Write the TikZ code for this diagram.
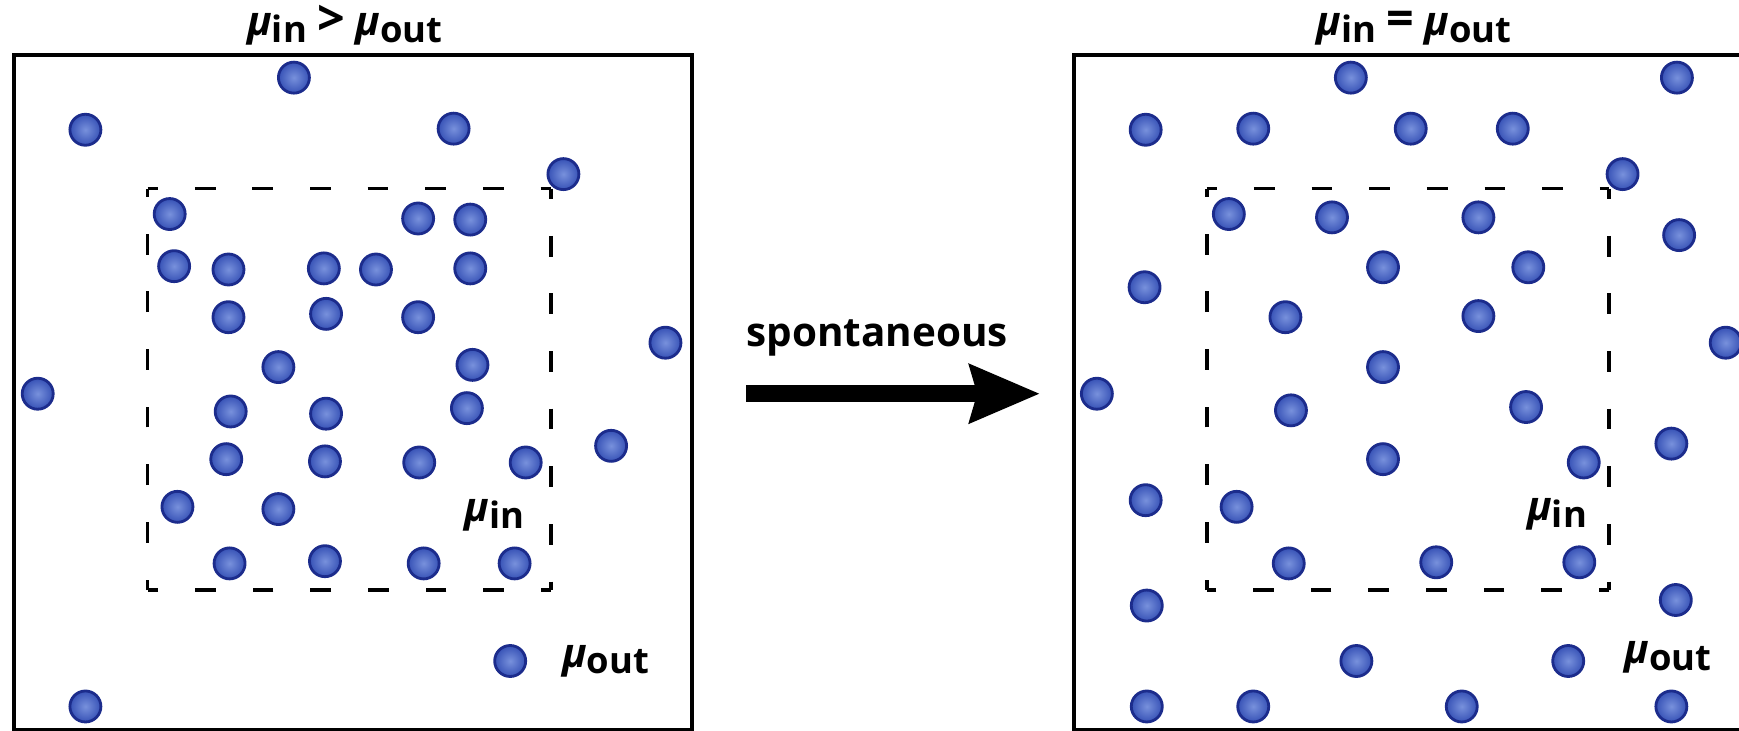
\documentclass[tikz,border=0pt]{standalone}
\usepackage{fontspec}
\setmainfont{Open Sans}
\usetikzlibrary{arrows.meta}
\definecolor{ballin}{RGB}{120,145,220}
\definecolor{ballout}{RGB}{55,82,182}
\definecolor{ballborder}{RGB}{28,44,140}
\newcommand{\mysub}[1]{\raisebox{-0.3ex}{\fontsize{0.9em}{1em}\selectfont\bfseries #1}}
\newcommand{\mymu}{{\bfseries\itshape μ}}
\newcommand{\myrel}[1]{{\fontsize{1.2em}{1em}\selectfont #1}}
\begin{document}
\begin{tikzpicture}[x=0.1109mm,y=-0.1109mm,
  ball/.style={circle,minimum size=3.1mm,inner sep=0pt,draw=ballborder,line width=0.8pt,inner color=ballin,outer color=ballout},
  frame/.style={draw=black,line width=1.05pt},
  dbox/.style={draw=black,line width=1.1pt,dash pattern=on 5.9pt off 10.5pt,dash phase=2.95pt},
  lbl/.style={inner sep=0pt,font=\fontsize{11.5}{14}\selectfont\bfseries},
  ttl/.style={inner sep=0pt,anchor=base,font=\fontsize{11.5}{14}\selectfont\bfseries}]
\useasboundingbox (0,0) rectangle (1568,659);
% frames
\node[frame,minimum width=611*0.1109mm,minimum height=608*0.1109mm,anchor=north west,inner sep=0pt] (L) at (11,48) {};
\node[frame,minimum width=611*0.1109mm,minimum height=608*0.1109mm,anchor=north west,inner sep=0pt] (R) at (967,48) {};
% dashed boxes
\coordinate (la) at (133,170); \coordinate (lb) at (497,170); \coordinate (lc) at (497,532); \coordinate (ld) at (133,532);
\draw[dbox] (la) -- (lb); \draw[dbox] (lb) -- (lc); \draw[dbox] (lc) -- (ld); \draw[dbox] (ld) -- (la);
\coordinate (ra) at (1088,170); \coordinate (rb) at (1451,170); \coordinate (rc) at (1451,532); \coordinate (rd) at (1088,532);
\draw[dbox] (ra) -- (rb); \draw[dbox] (rb) -- (rc); \draw[dbox] (rc) -- (rd); \draw[dbox] (rd) -- (ra);
% titles
\node[ttl] (t1) at (311,32) {\mymu\mysub{in} \myrel{>} \mymu\mysub{out}};
\node[ttl] (t2) at (1275,32) {\mymu\mysub{in} \myrel{=} \mymu\mysub{out}};
% left balls
\foreach \x/\y [count=\i] in {265/70,77/117,409/116,508/157,153/193,377/197,424/198,157/240,206/243,292/242,339/243,424/242,206/286,294/283,377/286,600/309,426/329,251/331,34/355,208/371,294/373,421/368,551/402,204/414,293/416,378/417,474/417,160/457,251/459,207/508,293/506,382/508,464/508,460/596,77/637}
  \node[ball] (lb\i) at (\x,\y) {};
% right balls
\foreach \x/\y [count=\i] in {1218/70,1512/70,1033/117,1130/116,1272/116,1364/116,1463/157,1108/193,1201/196,1333/196,1514/212,1247/241,1378/241,1032/259,1159/286,1333/285,1556/309,1247/331,989/355,1164/370,1376/367,1507/400,1247/414,1428/417,1033/451,1115/457,1162/508,1295/507,1424/507,1511/541,1034/546,1223/596,1414/596,1034/637,1130/637,1318/637,1507/637}
  \node[ball] (rb\i) at (\x,\y) {};
% labels
\node[lbl] (lmuin) at (446,465) {\mymu\mysub{in}};
\node[lbl] (lmuout) at (546,596) {\mymu\mysub{out}};
\node[lbl] (rmuin) at (1404,464) {\mymu\mysub{in}};
\node[lbl] (rmuout) at (1504,593) {\mymu\mysub{out}};
% arrow
\node[inner sep=0pt,font=\fontsize{11.5}{14}\selectfont\bfseries] (sp) at (791,305) {spontaneous};
\coordinate (as) at (673,355);
\coordinate (ae) at (937,355);
\draw[line width=1.75mm,-{Stealth[length=7.1mm,width=6.1mm,inset=0.9mm,line width=0pt]}] (as) -- (ae);
\end{tikzpicture}
\end{document}
